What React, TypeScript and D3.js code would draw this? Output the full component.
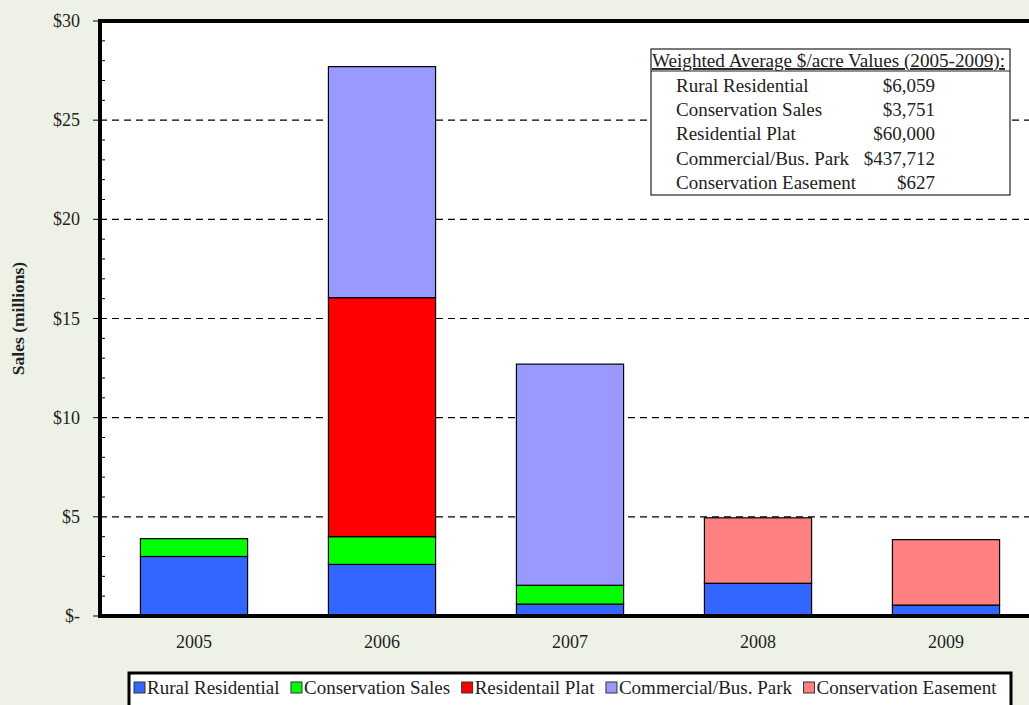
import React, { useEffect, useRef } from "react";
import * as d3 from "d3";

const years = ["2005", "2006", "2007", "2008", "2009"];
const seriesNames = [
  "Rural Residential",
  "Conservation Sales",
  "Residentail Plat",
  "Commercial/Bus. Park",
  "Conservation Easement",
];
const seriesColors = ["#3366ff", "#00ff00", "#ff0000", "#9999ff", "#ff8080"];

// Sales in $ millions per year, one array per series
const ruralResidential = [3.0, 2.6, 0.6, 1.65, 0.55];
const conservationSales = [0.9, 1.4, 0.95, 0, 0];
const residentialPlat = [0, 12.05, 0, 0, 0];
const commercialPark = [0, 11.65, 11.15, 0, 0];
const conservationEasement = [0, 0, 0, 3.3, 3.3];

const yTicks = [0, 5, 10, 15, 20, 25, 30];
const yTickLabels = ["$-", "$5", "$10", "$15", "$20", "$25", "$30"];

const tableTitle = "Weighted Average $/acre Values (2005-2009):";
const tableLabels = [
  "Rural Residential",
  "Conservation Sales",
  "Residential Plat",
  "Commercial/Bus. Park",
  "Conservation Easement",
];
const tableValues = ["$6,059", "$3,751", "$60,000", "$437,712", "$627"];

const W = 1029;
const H = 705;
const FONT = "'Liberation Serif', 'Times New Roman', serif";

export default function App() {
  const ref = useRef<SVGSVGElement>(null);

  useEffect(() => {
    const svg = d3.select(ref.current);
    svg.selectAll("*").remove();

    const left = 100;
    const top = 21;
    const bottom = 616;
    const bandStep = 188;

    svg.append("rect").attr("width", W).attr("height", H).attr("fill", "#eef2e6");

    const x = d3
      .scaleBand<string>()
      .domain(years)
      .range([left, left + bandStep * years.length])
      .paddingInner(0.43)
      .paddingOuter(0.215);
    const y = d3.scaleLinear().domain([0, 30]).range([bottom, top]);

    // plot area
    svg
      .append("rect")
      .attr("x", left)
      .attr("y", top)
      .attr("width", W - left)
      .attr("height", bottom - top)
      .attr("fill", "#ffffff");

    // dashed gridlines
    svg
      .append("g")
      .selectAll("line")
      .data(yTicks.filter((t) => t > 0 && t < 30))
      .join("line")
      .attr("x1", left)
      .attr("x2", W)
      .attr("y1", (d) => y(d))
      .attr("y2", (d) => y(d))
      .attr("stroke", "#000")
      .attr("stroke-width", 1.2)
      .attr("stroke-dasharray", "7,5");

    // stacked bars
    const rows = years.map((yr, i) => ({
      year: yr,
      s0: ruralResidential[i],
      s1: conservationSales[i],
      s2: residentialPlat[i],
      s3: commercialPark[i],
      s4: conservationEasement[i],
    }));
    const keys = ["s0", "s1", "s2", "s3", "s4"];
    const stacked = d3.stack<any>().keys(keys)(rows);

    stacked.forEach((layer, k) => {
      svg
        .append("g")
        .selectAll("rect")
        .data(layer.filter((d) => d[1] - d[0] > 0))
        .join("rect")
        .attr("x", (d) => x(d.data.year)!)
        .attr("width", x.bandwidth())
        .attr("y", (d) => y(d[1]))
        .attr("height", (d) => y(d[0]) - y(d[1]))
        .attr("fill", seriesColors[k])
        .attr("stroke", "#000")
        .attr("stroke-width", 1.2);
    });

    // minor ticks inside the axis
    const minor = d3.range(1, 30).filter((v) => v % 5 !== 0);
    svg
      .append("g")
      .selectAll("line")
      .data(minor)
      .join("line")
      .attr("x1", left)
      .attr("x2", left + 5)
      .attr("y1", (d) => y(d))
      .attr("y2", (d) => y(d))
      .attr("stroke", "#000")
      .attr("stroke-width", 1);

    // major ticks outside
    svg
      .append("g")
      .selectAll("line")
      .data(yTicks)
      .join("line")
      .attr("x1", left - 7)
      .attr("x2", left)
      .attr("y1", (d) => y(d))
      .attr("y2", (d) => y(d))
      .attr("stroke", "#000")
      .attr("stroke-width", 1);

    // axis frame lines
    svg
      .append("line")
      .attr("x1", left)
      .attr("x2", left)
      .attr("y1", top - 2)
      .attr("y2", bottom + 2)
      .attr("stroke", "#000")
      .attr("stroke-width", 4);
    svg
      .append("line")
      .attr("x1", left - 2)
      .attr("x2", W)
      .attr("y1", bottom)
      .attr("y2", bottom)
      .attr("stroke", "#000")
      .attr("stroke-width", 4);
    svg
      .append("line")
      .attr("x1", left - 2)
      .attr("x2", W)
      .attr("y1", top)
      .attr("y2", top)
      .attr("stroke", "#000")
      .attr("stroke-width", 4);

    // y tick labels
    svg
      .append("g")
      .selectAll("text")
      .data(yTicks)
      .join("text")
      .attr("x", 80)
      .attr("y", (d) => y(d) + 6)
      .attr("text-anchor", "end")
      .attr("font-family", FONT)
      .attr("font-size", 18)
      .attr("fill", "#222")
      .text((d, i) => yTickLabels[i]);

    // x labels
    svg
      .append("g")
      .selectAll("text")
      .data(years)
      .join("text")
      .attr("x", (d) => x(d)! + x.bandwidth() / 2)
      .attr("y", 648)
      .attr("text-anchor", "middle")
      .attr("font-family", FONT)
      .attr("font-size", 18)
      .attr("fill", "#222")
      .text((d) => d);

    // y axis title
    svg
      .append("text")
      .attr("transform", `translate(24,${(top + bottom) / 2}) rotate(-90)`)
      .attr("text-anchor", "middle")
      .attr("font-family", FONT)
      .attr("font-size", 17.5)
      .attr("font-weight", "bold")
      .attr("fill", "#222")
      .text("Sales (millions)");

    // info table
    const tb = svg.append("g");
    tb.append("rect")
      .attr("x", 651)
      .attr("y", 49)
      .attr("width", 359)
      .attr("height", 146)
      .attr("fill", "#fff")
      .attr("stroke", "#222")
      .attr("stroke-width", 1.2);
    tb.append("text")
      .attr("x", 652)
      .attr("y", 67)
      .attr("font-family", FONT)
      .attr("font-size", 19)
      .attr("fill", "#222")
      .attr("text-decoration", "underline")
      .attr("textLength", 353)
      .attr("lengthAdjust", "spacingAndGlyphs")
      .text(tableTitle);
    tb.append("line")
      .attr("x1", 651)
      .attr("x2", 1010)
      .attr("y1", 71)
      .attr("y2", 71)
      .attr("stroke", "#222")
      .attr("stroke-width", 1);
    tableLabels.forEach((lab, i) => {
      tb.append("text")
        .attr("x", 676)
        .attr("y", 92 + i * 24.2)
        .attr("font-family", FONT)
        .attr("font-size", 19)
        .attr("fill", "#222")
        .text(lab);
      tb.append("text")
        .attr("x", 935)
        .attr("y", 92 + i * 24.2)
        .attr("text-anchor", "end")
        .attr("font-family", FONT)
        .attr("font-size", 19)
        .attr("fill", "#222")
        .text(tableValues[i]);
    });

    // legend
    const lg = svg.append("g");
    lg.append("rect")
      .attr("x", 129)
      .attr("y", 673)
      .attr("width", 882)
      .attr("height", 40)
      .attr("fill", "#fff")
      .attr("stroke", "#000")
      .attr("stroke-width", 3);
    let cx = 134;
    seriesNames.forEach((name, i) => {
      lg.append("rect")
        .attr("x", cx)
        .attr("y", 682)
        .attr("width", 11)
        .attr("height", 11)
        .attr("fill", seriesColors[i])
        .attr("stroke", "#333")
        .attr("stroke-width", 1);
      const t = lg
        .append("text")
        .attr("x", cx + 13)
        .attr("y", 694)
        .attr("font-family", FONT)
        .attr("font-size", 19)
        .attr("fill", "#222")
        .text(name);
      const w = (t.node() as SVGTextElement).getComputedTextLength();
      cx += 13 + w + 11.5;
    });
  }, []);

  return (
    <svg
      ref={ref}
      width={W}
      height={H}
      style={{ position: "absolute", left: 0, top: 0, display: "block" }}
    />
  );
}
